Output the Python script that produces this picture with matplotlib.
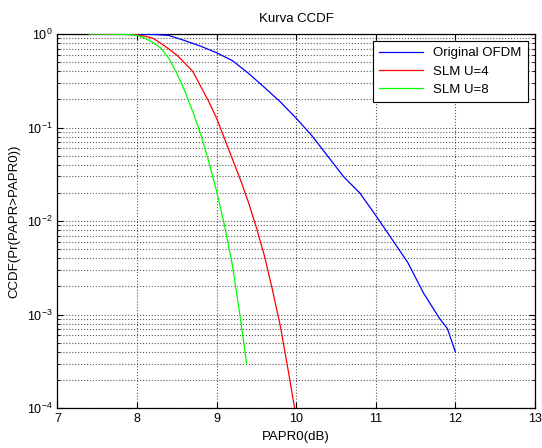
import matplotlib
matplotlib.use("Agg")
import matplotlib.pyplot as plt
import numpy as np
from matplotlib.ticker import LogLocator, NullFormatter

plt.rcParams['font.family'] = ['Liberation Sans', 'DejaVu Sans']

# data (x in dB, y as log10 of CCDF)
x_ofdm = [7.4, 8.0, 8.2, 8.4, 8.6, 8.8, 9.0, 9.2, 9.4, 9.6, 9.8, 10.0, 10.2,
          10.4, 10.6, 10.8, 11.0, 11.2, 11.4, 11.6, 11.8, 11.9, 12.0]
log_ofdm = [0, -0.001, -0.004, -0.015, -0.07, -0.13, -0.20, -0.285, -0.42,
            -0.57, -0.725, -0.90, -1.09, -1.31, -1.53, -1.70, -1.94, -2.19,
            -2.44, -2.77, -3.04, -3.15, -3.40]

x_u4 = [7.4, 7.8, 8.0, 8.1, 8.2, 8.3, 8.4, 8.5, 8.6, 8.7, 8.8, 8.9, 9.0, 9.1,
        9.2, 9.3, 9.4, 9.5, 9.6, 9.7, 9.8, 9.9, 9.98]
log_u4 = [0, -0.002, -0.01, -0.022, -0.045, -0.10, -0.16, -0.225, -0.31,
          -0.40, -0.56, -0.72, -0.90, -1.12, -1.34, -1.56, -1.80, -2.07,
          -2.37, -2.73, -3.12, -3.60, -4.0]

x_u8 = [7.4, 7.6, 7.8, 7.9, 8.0, 8.1, 8.2, 8.3, 8.4, 8.5, 8.6, 8.7, 8.8, 8.9,
        9.0, 9.1, 9.2, 9.3, 9.377]
log_u8 = [0, 0, -0.003, -0.007, -0.013, -0.045, -0.09, -0.15, -0.26, -0.42,
          -0.61, -0.83, -1.07, -1.36, -1.68, -2.05, -2.48, -3.05, -3.52]

labels = ["Original OFDM", "SLM U=4", "SLM U=8"]

fig = plt.figure(figsize=(5.42, 4.48), dpi=100)
ax = fig.add_axes([0.106, 0.089, 0.881, 0.835])

ax.semilogy(x_ofdm, 10 ** np.array(log_ofdm), color=(0, 0, 1), lw=0.9,
            label=labels[0], zorder=3)
ax.semilogy(x_u4, 10 ** np.array(log_u4), color=(1, 0, 0), lw=0.9,
            label=labels[1], zorder=3)
ax.semilogy(x_u8, 10 ** np.array(log_u8), color=(0, 1, 0), lw=0.9,
            label=labels[2], zorder=3)

ax.set_xlim(7, 13)
ax.set_ylim(1e-4, 1)
ax.set_xticks([7, 8, 9, 10, 11, 12, 13])
ax.yaxis.set_major_locator(LogLocator(base=10, numticks=10))
ax.yaxis.set_minor_locator(LogLocator(base=10, subs=np.arange(2, 10), numticks=20))
ax.yaxis.set_minor_formatter(NullFormatter())

# MATLAB-like grid
ax.grid(True, which="major", color="k", ls=":", lw=0.8, alpha=0.65)
ax.grid(True, which="minor", axis="y", color="k", ls=":", lw=0.8, alpha=0.65)

ax.tick_params(axis="both", which="both", direction="in", top=True, right=True,
               labelsize=9)
ax.tick_params(which="major", length=4)
ax.tick_params(which="minor", length=2)
for s in ax.spines.values():
    s.set_linewidth(0.9)

ax.set_title("Kurva CCDF", fontsize=9.5, pad=9)
ax.set_xlabel("PAPR0(dB)", fontsize=9.5, labelpad=4)
ax.set_ylabel("CCDF(Pr(PAPR>PAPR0))", fontsize=9.5, labelpad=5)

leg = ax.legend(loc="upper right", fontsize=9.5, fancybox=False, framealpha=1,
                edgecolor="k", handlelength=3.3, labelspacing=0.45,
                borderaxespad=0.55, borderpad=0.45)
leg.get_frame().set_linewidth(0.8)

plt.savefig("out.png", dpi=100)
